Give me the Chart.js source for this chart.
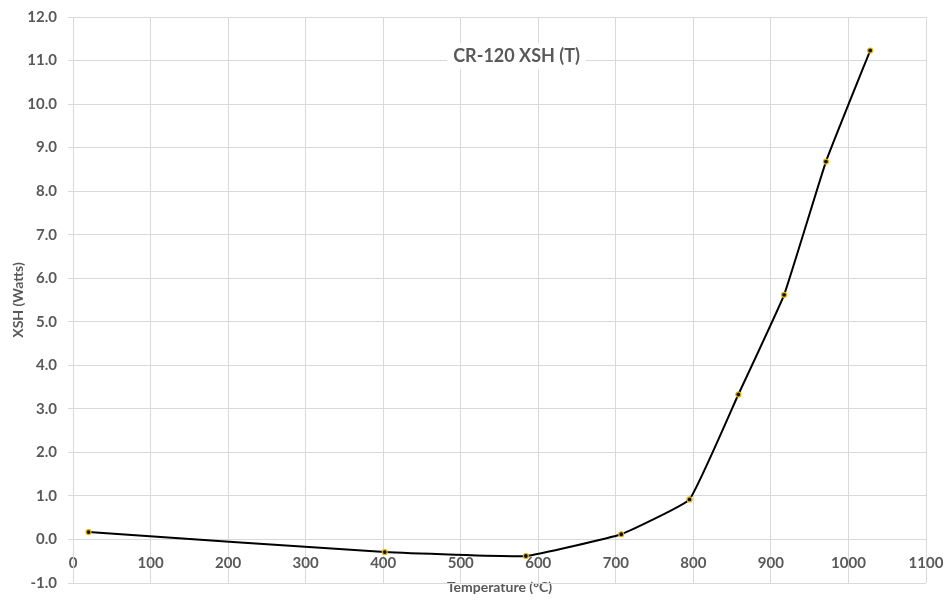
<!DOCTYPE html>
<html lang="en">

<head>
    <meta charset="UTF-8">
    <title>CR-120 XSH (T)</title>
    <script src="https://cdn.jsdelivr.net/npm/chart.js"></script>
    <style>
        body {
            margin: 0;
            background: #fff;
        }

        #wrap {
            width: 947px;
            height: 602px;
        }
    </style>
</head>

<body>
    <div id="wrap">
        <canvas id="mycanvas"></canvas>
    </div>

    <script type="text/javascript">
        // data
        const temps = [20, 402, 584, 707, 795, 858, 917, 971, 1028];
        const xsh = [0.17, -0.29, -0.38, 0.12, 0.92, 3.33, 5.62, 8.68, 11.23];
        const chartTitle = 'CR-120 XSH (T)';
        const xTitle = 'Temperature (°C)';
        const yTitle = 'XSH (Watts)';

        const textColor = '#595959';
        const gridColor = '#d9d9d9';
        const fontFamily = 'Lato, "Open Sans", sans-serif';

        // title sits inside the plot, on a white box
        const innerTitle = {
            id: 'innerTitle',
            afterDraw(chart) {
                const ctx = chart.ctx;
                const x = chart.scales.x.getPixelForValue(572);
                const y = chart.scales.y.getPixelForValue(11.1);
                ctx.save();
                ctx.font = 'bold 18px ' + fontFamily;
                const w = ctx.measureText(chartTitle).width;
                ctx.fillStyle = '#fff';
                ctx.fillRect(x - w / 2 - 6, y - 13, w + 12, 26);
                ctx.fillStyle = textColor;
                ctx.textAlign = 'center';
                ctx.textBaseline = 'middle';
                ctx.fillText(chartTitle, x, y);
                ctx.restore();
            }
        };

        const points = temps.map((t, i) => ({ x: t, y: xsh[i] }));

        const ctx = document.getElementById('mycanvas').getContext('2d');

        new Chart(ctx, {
            type: 'line',
            data: {
                datasets: [{
                    data: points,
                    borderColor: '#000',
                    borderWidth: 2,
                    tension: 0.1,
                    pointRadius: 2.5,
                    pointBackgroundColor: '#111',
                    pointBorderColor: '#e6b800',
                    pointBorderWidth: 1.2
                }]
            },
            options: {
                responsive: true,
                maintainAspectRatio: false,
                animation: false,
                layout: {
                    padding: { left: 0, right: 21, top: 17, bottom: 19 }
                },
                plugins: {
                    legend: { display: false },
                    tooltip: { enabled: false }
                },
                scales: {
                    x: {
                        type: 'linear',
                        position: { y: 0 },
                        min: 0,
                        max: 1100,
                        afterFit: s => { s.paddingLeft = 0; s.paddingRight = 0; },
                        ticks: {
                            stepSize: 100,
                            color: textColor,
                            padding: 15,
                            maxRotation: 0,
                            font: { family: fontFamily, size: 15, weight: 'bold' },
                            callback: v => String(v)
                        },
                        grid: { color: gridColor, drawTicks: false },
                        border: { color: gridColor },
                        title: {
                            display: true,
                            text: xTitle,
                            color: textColor,
                            padding: { top: -8, bottom: 0 },
                            font: { family: fontFamily, size: 14, weight: 'bold' }
                        }
                    },
                    y: {
                        min: -1,
                        max: 12,
                        afterFit: s => { s.width = 73; s.paddingTop = 0; s.paddingBottom = 0; },
                        ticks: {
                            stepSize: 1,
                            color: textColor,
                            padding: 11,
                            font: { family: fontFamily, size: 15, weight: 'bold' },
                            callback: v => v.toFixed(1)
                        },
                        grid: { color: gridColor, tickLength: 5 },
                        border: { color: gridColor },
                        title: {
                            display: true,
                            text: yTitle,
                            color: textColor,
                            padding: { top: 10, bottom: 0 },
                            font: { family: fontFamily, size: 14, weight: 'bold' }
                        }
                    }
                }
            },
            plugins: [innerTitle]
        });
    </script>

</body>

</html>
